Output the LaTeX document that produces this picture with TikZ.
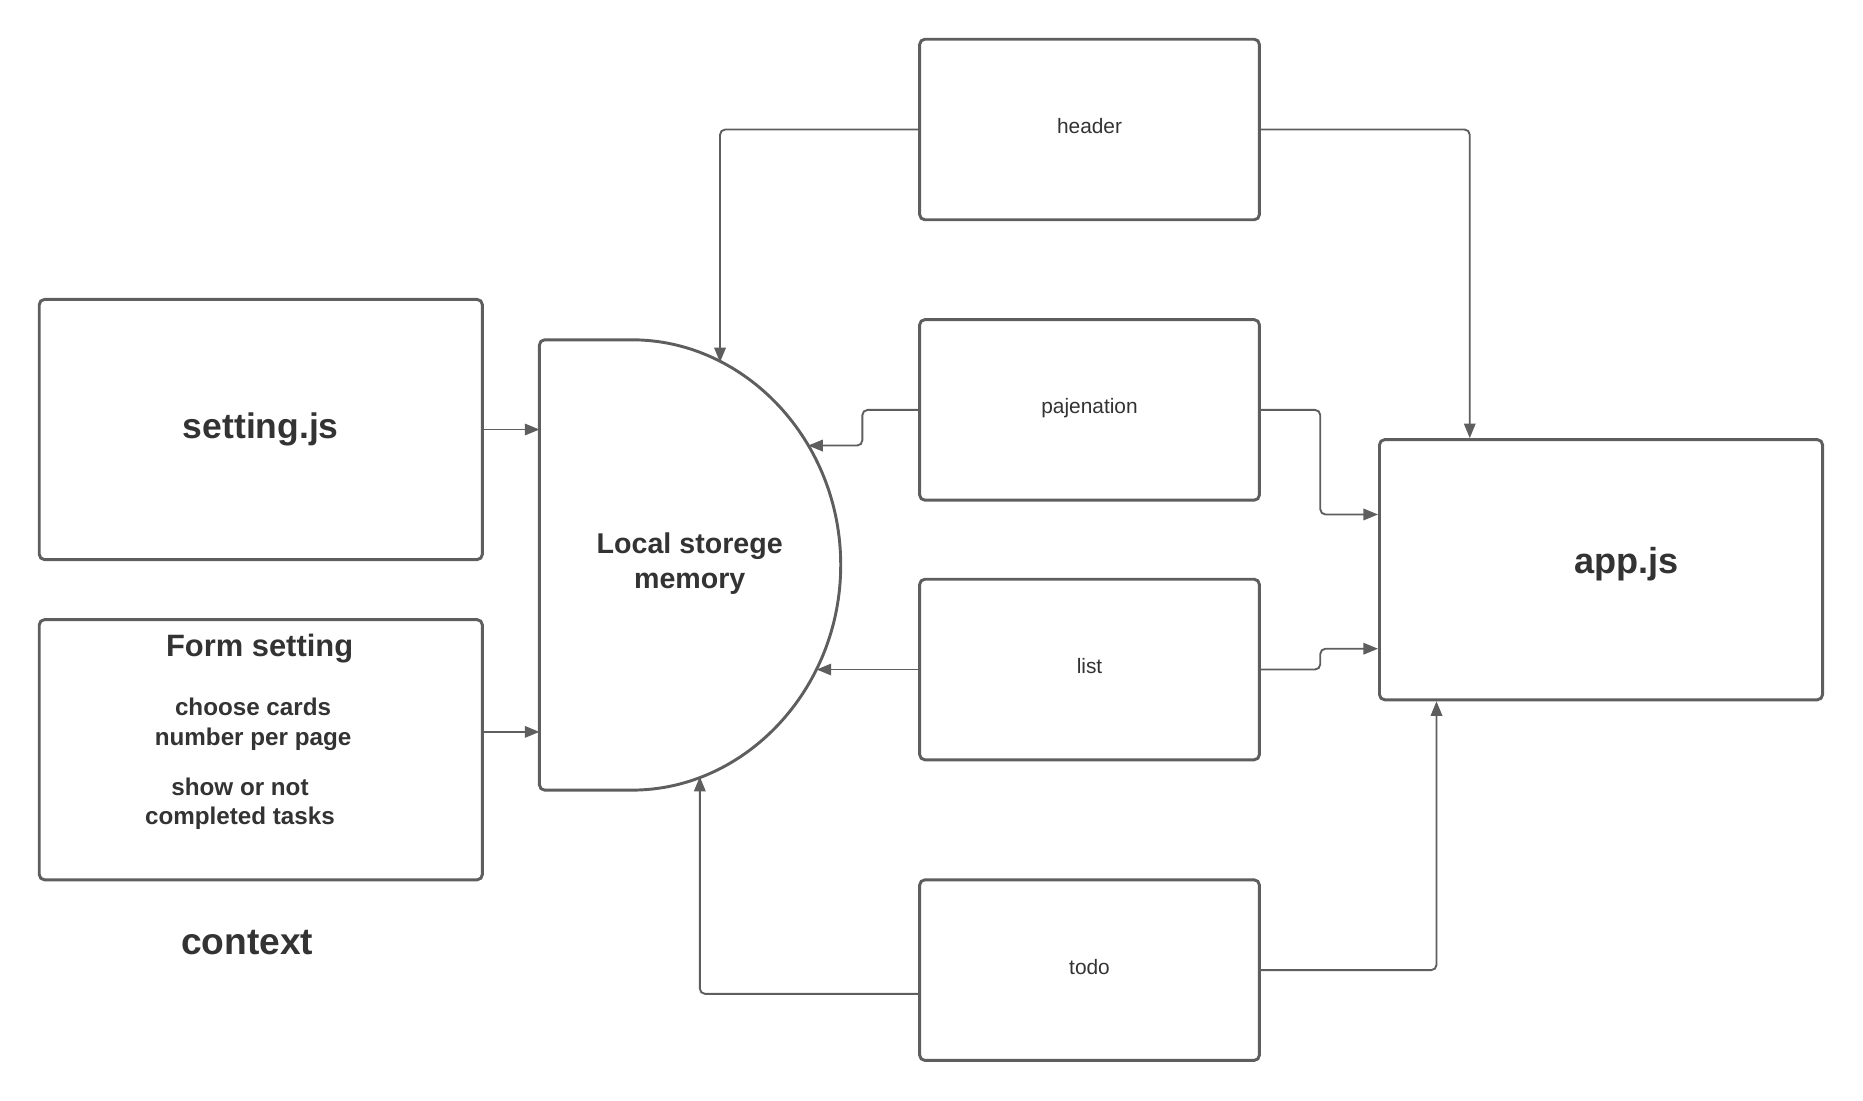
\documentclass[tikz,border=0pt]{standalone}
\usepackage{fontspec}
\setmainfont{Liberation Sans}
\usetikzlibrary{arrows.meta}
\definecolor{linegray}{HTML}{5E5E5E}
\definecolor{textgray}{HTML}{333333}
\tikzset{
  box/.style={draw=linegray, line width=1.4pt, rounded corners=2.5pt, fill=white, text=textgray},
  smallbox/.style={box, minimum width=5.72cm, minimum height=3.04cm, text height=7.5pt, text depth=3.7pt, font=\fontsize{10}{12}\selectfont},
  bigbox/.style={box, minimum width=7.46cm, minimum height=4.38cm, font=\bfseries\fontsize{17}{20}\selectfont},
  note/.style={text=textgray, align=center, font=\bfseries\fontsize{11.6}{14.2}\selectfont},
  arr/.style={draw=linegray, line width=0.9pt, rounded corners=2.5pt, -{Triangle[length=7pt,width=5.5pt]}}
}
\begin{document}
\begin{tikzpicture}[x=0.02cm, y=-0.02cm]
		\useasboundingbox (0,0) rectangle (1568,926);
		% components
		\node[smallbox] (header) at (917,109) {header};
		\node[smallbox] (paj) at (917,345) {pajenation};
		\node[smallbox] (list) at (917,563.5) {list};
		\node[smallbox] (todo) at (917,816.5) {todo};
		\node[bigbox] (setting) at (219.5,361.5) {setting.js};
		\node[bigbox] (form) at (219.5,631) {};
		\node[bigbox] (app) at (1347.5,479.5) {};
		\node[note, font=\bfseries\fontsize{17.3}{20}\selectfont] (apptext) at (1369,475) {app.js};
		\node[note, font=\bfseries\fontsize{14.8}{17}\selectfont] (formtitle) at (218.5,546) {Form setting};
		\node[note] (formcards) at (213,609.5) {choose cards\\number per page};
		\node[note] (formtasks) at (202,676.5) {show or not\\completed tasks};
		\node[note, font=\bfseries\fontsize{17.8}{20}\selectfont] (context) at (208,793) {context};
		% local storage
		\draw[box, line width=1.4pt] (454,475.5) -- (454,286) -- (527.6,286)
			arc[start angle=-90, end angle=90, x radius=180, y radius=189.5] -- (454,665) -- cycle;
		\node[note, font=\bfseries\fontsize{13.7}{16.6}\selectfont] (mem) at (580.5,474.5) {Local storege\\memory};
		\coordinate (mL) at (454,475.5);
		\coordinate (mTop) at (606,304.9);
		\coordinate (mPaj) at (680.2,375);
		\coordinate (mList) at (687.3,563.5);
		\coordinate (mTodo) at (589,653.7);
		% connectors
		\draw[arr] (header.west) -| (mTop);
		\draw[arr] (header.east) -| ([xshift=-2.21cm]app.north);
		\draw[arr] (setting.east) -- (setting.east -| mL);
		\draw[arr] ([yshift=0.3cm]form.east) -- ([yshift=0.3cm]form.east -| mL);
		\draw[arr] (paj.west) -- ++(-47,0) |- (mPaj);
		\draw[arr] (paj.east) -- ++(50,0) |- ([yshift=0.93cm]app.west);
		\draw[arr] (list.west) -- (mList);
		\draw[arr] (list.east) -- ++(50,0) |- ([yshift=-1.33cm]app.west);
		\draw[arr] ([yshift=-0.4cm]todo.west) -| (mTodo);
		\draw[arr] (todo.east) -| ([xshift=-2.77cm]app.south);
	\end{tikzpicture}
\end{document}
